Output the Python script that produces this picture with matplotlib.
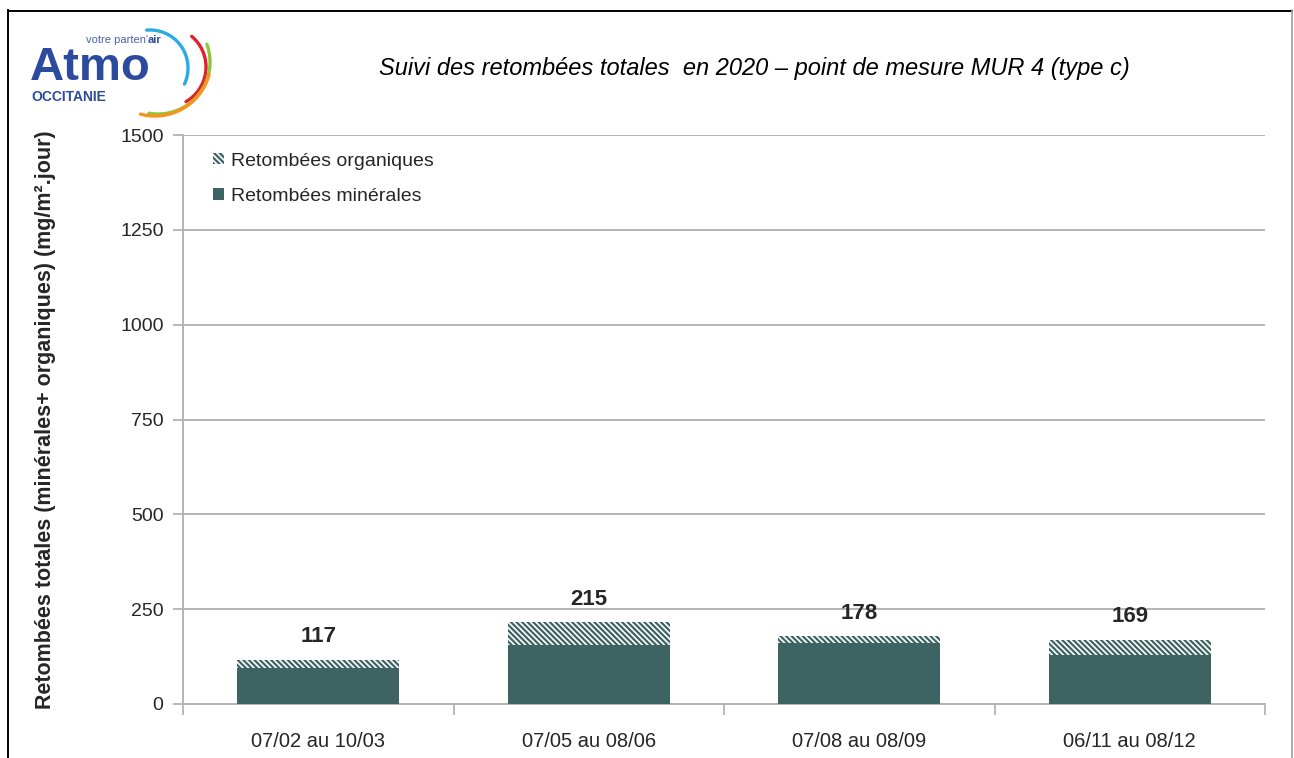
import numpy as np
import matplotlib as mpl
import matplotlib.pyplot as plt
from matplotlib.patches import Patch

# data
periodes = ['07/02 au 10/03', '07/05 au 08/06', '07/08 au 08/09', '06/11 au 08/12']
minerales = [94, 155, 162, 129]
organiques = [23, 60, 16, 40]
totaux = [117, 215, 178, 169]
yticks = [0, 250, 500, 750, 1000, 1250, 1500]

teal = '#3d6462'
grid_grey = '#b4b4b4'
txt = '#262626'

mpl.rcParams['font.family'] = ['Liberation Sans', 'DejaVu Sans']
mpl.rcParams['hatch.linewidth'] = 1.6
mpl.rcParams['hatch.color'] = teal

fig = plt.figure(figsize=(12.94, 7.58), dpi=100)

# overlay in pixel coordinates for the frame and the logo
deco = fig.add_axes((0, 0, 1, 1), zorder=-1)
deco.set_xlim(0, 1294)
deco.set_ylim(758, 0)
deco.axis('off')
deco.plot([8, 8], [758, 10], color='black', lw=1.4)
deco.plot([8, 1292], [10.5, 10.5], color='black', lw=1.4)
deco.plot([1292, 1292], [10, 758], color='#a0a0a0', lw=1.2)

# logo
deco.text(30, 80, 'Atmo', fontsize=34, fontweight='bold', color='#2d4b9e',
          ha='left', va='baseline')
vp = deco.text(86, 43, "votre parten'", fontsize=8, color='#4a63a8',
               ha='left', va='baseline')
deco.annotate('air', xy=(1, 0), xycoords=vp, fontsize=8, fontweight='bold',
              color='#2d4b9e', ha='left', va='bottom')
deco.text(31, 101, 'OCCITANIE', fontsize=10, fontweight='bold', color='#2d4b9e',
          ha='left', va='baseline')
arcs = [((150, 68), 38, 95, -25, '#29abe2'),
        ((166, 67), 40, 50, -60, '#e3202e'),
        ((158, 62), 52, 20, -100, '#8dc63f'),
        ((155, 60), 56, -15, -105, '#f7941d')]
for (cx, cy), r, a0, a1, col in arcs:
    th = np.radians(np.linspace(a0, a1, 60))
    deco.plot(cx + r * np.cos(th), cy - r * np.sin(th), color=col, lw=2.4,
              solid_capstyle='round')

ax = fig.add_axes((183 / 1294, 54 / 758, 1082 / 1294, 569 / 758))
x = np.arange(len(periodes))
ax.bar(x, minerales, width=0.6, color=teal, linewidth=0, zorder=3)
ax.bar(x, organiques, width=0.6, bottom=minerales, facecolor='white',
       edgecolor=teal, hatch='\\' * 6, linewidth=0, zorder=3)

for xi, t in zip(x, totaux):
    ax.annotate(str(t), (xi, t), xytext=(0, 9), textcoords='offset points',
                ha='center', va='bottom', fontsize=16, fontweight='bold', color=txt)

ax.set_xlim(-0.5, len(periodes) - 0.5)
ax.set_ylim(0, 1500)
ax.set_yticks(yticks)
ax.set_yticklabels([str(v) for v in yticks], fontsize=14, color=txt)
ax.set_xticks(x)
ax.set_xticklabels(periodes, fontsize=14.5, color=txt)
ax.set_xticks(np.arange(-0.5, len(periodes)), minor=True)
ax.tick_params(axis='x', which='major', length=0, pad=20)
ax.tick_params(axis='x', which='minor', length=8, color=grid_grey, width=1.3)
ax.tick_params(axis='y', length=7, color=grid_grey, width=1.3, pad=7)

ax.grid(axis='y', color=grid_grey, lw=1.4, zorder=0)
ax.set_axisbelow(True)
for s in ['top', 'right']:
    ax.spines[s].set_visible(False)
for s in ['left', 'bottom']:
    ax.spines[s].set_color(grid_grey)
    ax.spines[s].set_linewidth(1.4)

ax.set_ylabel('Retombées totales (minérales+ organiques) (mg/m².jour)',
              fontsize=15.5, fontweight='bold', color=txt)
ax.yaxis.set_label_coords(-0.117, 0.5)

handles = [Patch(facecolor='white', edgecolor=teal, hatch='\\' * 6, linewidth=0),
           Patch(facecolor=teal, linewidth=0)]
leg = ax.legend(handles, ['Retombées organiques', 'Retombées minérales'],
                loc='upper left', bbox_to_anchor=(0.012, 1.0), frameon=False,
                fontsize=14, handlelength=0.55, handleheight=0.55,
                handletextpad=0.35, labelspacing=0.95)
for t in leg.get_texts():
    t.set_color(txt)

fig.text(0.583, 0.91, 'Suivi des retombées totales  en 2020 – point de mesure MUR 4 (type c)',
         fontsize=17, style='italic', color='black', ha='center', va='center')

fig.savefig('out.png', dpi=100)
